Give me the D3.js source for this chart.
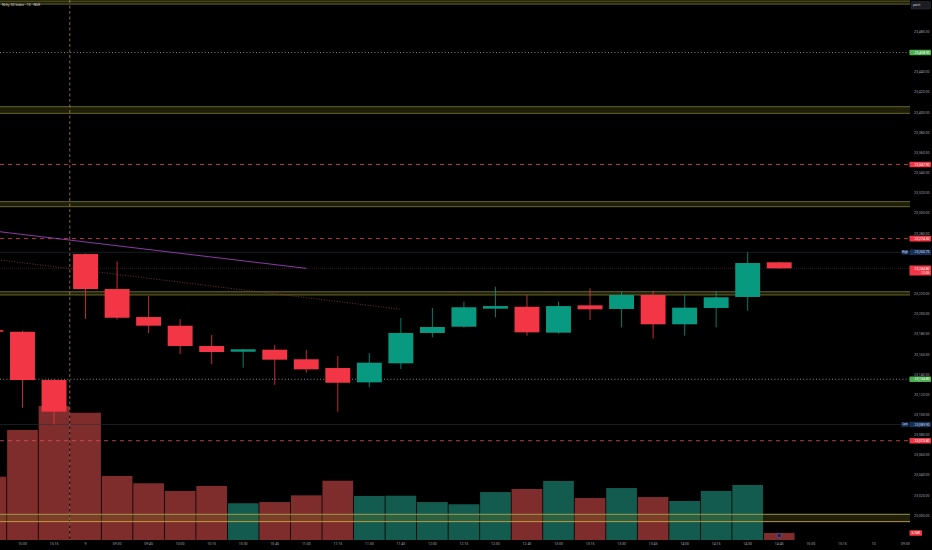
<!DOCTYPE html>
<html>
<head>
<meta charset="utf-8">
<script src="https://cdn.jsdelivr.net/npm/d3@7"></script>
<style>
  html, body { margin: 0; padding: 0; background: #000; }
  svg { display: block; font-family: Roboto, "DejaVu Sans", sans-serif; }
</style>
</head>
<body>
<svg id="chart"></svg>
<script>
// NIFTY 50 15-min candles with volume, dark trading-terminal look

const width = 932;
const height = 550;
const plotRight = 910;   // price scale starts here
const plotBottom = 540;  // time axis below this

// time slots, the first one is the bar cut off at the left edge
const times = ["14:45", "15:00", "15:15", "9", "09:30", "09:45", "10:00", "10:15", "10:30",
  "10:45", "11:00", "11:15", "11:30", "11:45", "12:00", "12:15", "12:30", "12:45", "13:00",
  "13:15", "13:30", "13:45", "14:00", "14:15", "14:30", "14:45", "15:00", "15:15", "10", "09:30"];

const open  = [23183.5, 23181.9, 23134.0, 23259.0, 23224.3, 23196.5, 23187.9, 23167.8, 23162.1,
  23164.1, 23154.6, 23145.9, 23131.7, 23150.6, 23180.7, 23186.9, 23204.8, 23206.7, 23181.0,
  23208.1, 23204.5, 23218.4, 23189.3, 23205.5, 23216.4, 23250.8];
const high  = [23184.5, 23183.0, 23135.0, 23259.5, 23251.4, 23217.4, 23194.5, 23178.7, 23164.8,
  23168.8, 23163.8, 23157.8, 23160.8, 23195.5, 23205.5, 23211.7, 23226.6, 23218.4, 23211.7,
  23225.0, 23221.6, 23222.6, 23218.4, 23222.3, 23260.75, 23251.0];
const low   = [23180.5, 23106.5, 23089.9, 23194.5, 23194.0, 23180.7, 23159.8, 23149.7, 23146.2,
  23129.1, 23141.3, 23102.6, 23126.8, 23144.9, 23176.4, 23186.0, 23196.2, 23178.0, 23180.0,
  23193.6, 23186.3, 23175.4, 23178.0, 23186.3, 23202.8, 23244.5];
const close = [23181.9, 23134.0, 23102.6, 23224.3, 23195.8, 23187.9, 23167.8, 23161.8, 23164.5,
  23154.2, 23144.6, 23131.3, 23151.2, 23180.7, 23186.6, 23206.2, 23207.4, 23181.3, 23207.4,
  23204.2, 23218.4, 23189.3, 23205.8, 23216.1, 23250.1, 23244.8];
// volume in thousands
const volume = [51.9, 90.2, 109.8, 104.3, 52.5, 46.5, 40.2, 44.3, 30.1, 31.1, 36.6, 48.6, 36.1,
  36.3, 31.1, 29.3, 39.3, 41.8, 48.4, 34.4, 42.6, 35.2, 32.0, 40.2, 45.1, 5.74];

// drawn levels
const greenLevels = [23458.9, 23134.8];
const redLevels = [23347.9, 23274.3, 23073.8];
const zones = [[23507, 23510], [23398.6, 23405.2], [23306, 23311], [23218.4, 23221.6], [22993.5, 23000.8]];
const trendLine = [[0, 23282.2], [10, 23244.8]];
const dottedTrend = [[0, 23254.2], [13, 23204.2]];
const sessionBreak = 3;     // first slot of the new day
const countdown = "12:05";

const priceTicks = d3.range(22980, 23501, 20);

const bars = open.map((o, i) => ({
  i, o, h: high[i], l: low[i], c: close[i], v: volume[i], up: close[i] >= o
}));
const last = bars[bars.length - 1];

const UP = "#089981", DOWN = "#f23645";
const UP_VOL = "#135a4f", DOWN_VOL = "#7f2c2d";

// scales
const x = d3.scaleBand()
  .domain(d3.range(times.length))
  .range([-24.8, 921.1])
  .padding(0);
const cx = i => x(i) + x.bandwidth() / 2;
const bodyW = x.bandwidth() * 0.79;

const y = d3.scaleLinear().domain([23000, 23480]).range([515.1, 31.3]);
const yVol = d3.scaleLinear().domain([0, 100]).range([plotBottom, 418]);

const hiVal = d3.max(high), loVal = d3.min(low);

// boxes on the price scale (top, bottom) - ticks under them are hidden
const tagBoxes = [...greenLevels, ...redLevels, hiVal, loVal].map(p => [y(p) - 2.8, y(p) + 2.8])
  .concat([[y(last.c) - 2.8, y(last.c) + 7.2], [yVol(last.v) - 2.8, yVol(last.v) + 2.8], [0, 9.5]]);
const shownTicks = priceTicks.filter(p => {
  const t = y(p);
  return !tagBoxes.some(([a, b]) => t + 1.8 > a && t - 1.8 < b);
});

const svg = d3.select("#chart")
  .attr("width", width)
  .attr("height", height)
  .attr("viewBox", [0, 0, width, height]);

svg.append("rect").attr("width", width).attr("height", height).attr("fill", "#000");

svg.append("clipPath").attr("id", "plot")
  .append("rect").attr("width", plotRight).attr("height", plotBottom);

const plot = svg.append("g").attr("clip-path", "url(#plot)");

// volume histogram
plot.append("g")
  .selectAll("rect")
  .data(bars)
  .join("rect")
    .attr("x", d => x(d.i) + 0.4)
    .attr("width", x.bandwidth() - 0.8)
    .attr("y", d => yVol(d.v))
    .attr("height", d => yVol(0) - yVol(d.v))
    .attr("fill", d => d.up ? UP_VOL : DOWN_VOL);

// marker on the last volume bar
plot.append("circle")
  .attr("cx", cx(last.i))
  .attr("cy", 535.5)
  .attr("r", 2.3)
  .attr("fill", "#2a1f3a")
  .attr("stroke", "#6a5bd0")
  .attr("stroke-width", 0.6);

// zones
const zoneG = plot.append("g");
zones.forEach(([a, b], k) => {
  zoneG.append("rect")
    .attr("x", 0).attr("width", plotRight)
    .attr("y", y(b)).attr("height", y(a) - y(b))
    .attr("fill", "#6f6f22").attr("fill-opacity", 0.28);
  zoneG.append("line")
    .attr("x1", 0).attr("x2", plotRight)
    .attr("y1", y(b)).attr("y2", y(b))
    .attr("stroke", k === zones.length - 1 ? "#a4a650" : "#6d6e2e")
    .attr("stroke-width", 0.9);
  zoneG.append("line")
    .attr("x1", 0).attr("x2", plotRight)
    .attr("y1", y(a)).attr("y2", y(a))
    .attr("stroke", k === zones.length - 1 ? "#c9a545" : "#6d6e2e")
    .attr("stroke-width", 0.9);
});

// faint high / low / last price lines
[hiVal, loVal].forEach(p => {
  plot.append("line")
    .attr("x1", 0).attr("x2", plotRight)
    .attr("y1", y(p)).attr("y2", y(p))
    .attr("stroke", "#2c2f36").attr("stroke-width", 0.6);
});
plot.append("line")
  .attr("x1", 0).attr("x2", plotRight)
  .attr("y1", y(last.c)).attr("y2", y(last.c))
  .attr("stroke", "#4a2c30").attr("stroke-width", 0.6)
  .attr("stroke-dasharray", "1 1");

// level lines
plot.append("g")
  .selectAll("line")
  .data(greenLevels)
  .join("line")
    .attr("x1", 0).attr("x2", plotRight)
    .attr("y1", d => y(d)).attr("y2", d => y(d))
    .attr("stroke", "#b8bcc4").attr("stroke-width", 0.7)
    .attr("stroke-dasharray", "1 2.2");

plot.append("g")
  .selectAll("line")
  .data(redLevels)
  .join("line")
    .attr("x1", 0).attr("x2", plotRight)
    .attr("y1", d => y(d)).attr("y2", d => y(d))
    .attr("stroke", "#d9505a").attr("stroke-width", 0.8)
    .attr("stroke-dasharray", "4 4");

// trend lines
const line = d3.line().x(d => cx(d[0])).y(d => y(d[1]));
plot.append("path")
  .attr("d", line(trendLine))
  .attr("fill", "none")
  .attr("stroke", "#9b3fb8")
  .attr("stroke-width", 0.9);
plot.append("path")
  .attr("d", line(dottedTrend))
  .attr("fill", "none")
  .attr("stroke", "#8a3a3c")
  .attr("stroke-width", 0.8)
  .attr("stroke-dasharray", "1 1.6");

// candles
const candle = plot.append("g")
  .selectAll("g")
  .data(bars)
  .join("g");

candle.append("line")
  .attr("x1", d => cx(d.i)).attr("x2", d => cx(d.i))
  .attr("y1", d => y(d.h)).attr("y2", d => y(d.l))
  .attr("stroke", d => d.up ? UP : DOWN)
  .attr("stroke-width", 0.8);

candle.append("rect")
  .attr("x", d => cx(d.i) - bodyW / 2)
  .attr("width", bodyW)
  .attr("y", d => y(Math.max(d.o, d.c)))
  .attr("height", d => Math.max(0.8, Math.abs(y(d.o) - y(d.c))))
  .attr("fill", d => d.up ? UP : DOWN);

// session break
plot.append("line")
  .attr("x1", x(sessionBreak)).attr("x2", x(sessionBreak))
  .attr("y1", 0).attr("y2", plotBottom)
  .attr("stroke", "#c68a64").attr("stroke-width", 0.7)
  .attr("stroke-dasharray", "3 2.5");

// axes
const fmt = d3.format(",.2f");

const yAxis = svg.append("g")
  .attr("transform", `translate(${plotRight},0)`)
  .call(d3.axisRight(y).tickValues(shownTicks).tickFormat(fmt).tickSize(0));
yAxis.select(".domain").remove();
yAxis.selectAll("text")
  .attr("x", 19.5)
  .attr("dy", "0.34em")
  .attr("text-anchor", "end")
  .attr("fill", "#a0a3ac")
  .attr("font-size", 3.5)
  .attr("font-family", "Roboto, sans-serif");

const xAxis = svg.append("g")
  .attr("transform", `translate(0,${plotBottom})`)
  .call(d3.axisBottom(x).tickValues(d3.range(1, times.length)).tickFormat(i => times[i]).tickSize(0).tickPadding(3));
xAxis.select(".domain").remove();
xAxis.selectAll("text")
  .attr("fill", "#a0a3ac")
  .attr("font-size", 3.5)
  .attr("font-family", "Roboto, sans-serif");

// price scale labels
const labels = svg.append("g").attr("font-size", 3.4).attr("font-family", "Roboto, sans-serif");

function priceTag(p, fill, textFill, text) {
  labels.append("rect")
    .attr("x", plotRight - 0.5).attr("width", 21.5)
    .attr("y", y(p) - 2.8).attr("height", 5.6)
    .attr("rx", 0.6)
    .attr("fill", fill);
  labels.append("text")
    .attr("x", 929.5).attr("y", y(p))
    .attr("dy", "0.34em")
    .attr("text-anchor", "end")
    .attr("fill", textFill)
    .text(text || fmt(p));
}

greenLevels.forEach(p => priceTag(p, "#4caf50", "#ffffff"));
redLevels.forEach(p => priceTag(p, "#f23645", "#ffffff"));

// high / low tags
[["High", hiVal], ["Low", loVal]].forEach(([name, p]) => {
  labels.append("rect")
    .attr("x", 901.5).attr("width", 7)
    .attr("y", y(p) - 2.2).attr("height", 4.4)
    .attr("rx", 0.5)
    .attr("fill", "#1b3a66");
  labels.append("text")
    .attr("x", 905).attr("y", y(p))
    .attr("dy", "0.34em")
    .attr("text-anchor", "middle")
    .attr("font-size", 2.8)
    .attr("fill", "#d6dbe6")
    .text(name);
  priceTag(p, "#16305a", "#d6dbe6");
});

// last price with countdown
labels.append("rect")
  .attr("x", plotRight - 0.5).attr("width", 21.5)
  .attr("y", y(last.c) - 2.8).attr("height", 10)
  .attr("rx", 0.6)
  .attr("fill", "#f23645");
labels.append("text")
  .attr("x", 929.5).attr("y", y(last.c))
  .attr("dy", "0.34em")
  .attr("text-anchor", "end")
  .attr("fill", "#fff")
  .text(fmt(last.c));
labels.append("text")
  .attr("x", 929.5).attr("y", y(last.c) + 4.4)
  .attr("dy", "0.34em")
  .attr("text-anchor", "end")
  .attr("fill", "#fff")
  .text(countdown);

// last volume tag
labels.append("rect")
  .attr("x", plotRight - 0.5).attr("width", 12.5)
  .attr("y", yVol(last.v) - 2.8).attr("height", 5.6)
  .attr("rx", 0.6)
  .attr("fill", "#f23645");
labels.append("text")
  .attr("x", 915.75).attr("y", yVol(last.v))
  .attr("dy", "0.34em")
  .attr("text-anchor", "middle")
  .attr("fill", "#fff")
  .text(d3.format(".2f")(last.v) + "K");

// scale mode box, top right
svg.append("rect")
  .attr("x", 911).attr("y", 1.5).attr("width", 19.5).attr("height", 7.5)
  .attr("rx", 1)
  .attr("fill", "#1c1d22").attr("stroke", "#3a3c44").attr("stroke-width", 0.4);
svg.append("text")
  .attr("x", 913).attr("y", 5.3)
  .attr("dy", "0.34em")
  .attr("font-size", 3.2)
  .attr("fill", "#d1d4dc")
  .text("point");

// title
svg.append("text")
  .attr("x", 2).attr("y", 5.2)
  .attr("dy", "0.34em")
  .attr("font-size", 3.6)
  .attr("fill", "#d1d4dc")
  .text("Nifty 50 Index · 15 · NSE");
</script>
</body>
</html>
